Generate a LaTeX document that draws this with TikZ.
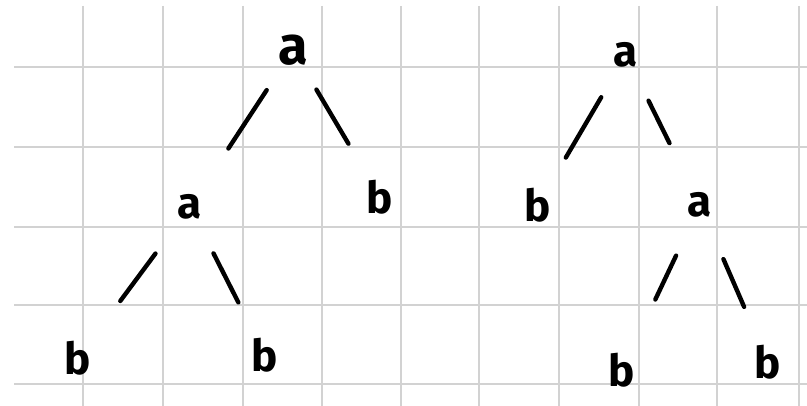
\documentclass[tikz,border=0pt]{standalone}
\usepackage{fontspec}
\setmainfont{Fira Sans}

\tikzset{
  gridline/.style={draw=gray!35, line width=1.5pt},
  letter/.style={inner sep=0pt, font=\fontsize{44}{44}\selectfont\bfseries},
  bigletter/.style={inner sep=0pt, font=\fontsize{54}{54}\selectfont\bfseries},
  branch/.style={line width=4.4pt, line cap=round}
}

\begin{document}
\begin{tikzpicture}[x=1pt, y=-1pt]
  \useasboundingbox[fill=white] (0,0) rectangle (807,406);

  % squared paper
  \foreach \yy in {67,147,227,305,384}
    \draw[gridline] (14,\yy) -- (807,\yy);
  \foreach \xx in {83,163,243,322,401,479,559,639,717,799}
    \draw[gridline] (\xx,6) -- (\xx,406);

  % left tree
  \node[bigletter] (ra) at (293,50) {a};
  \node[letter] (la) at (190,207) {a};
  \node[letter] (lb) at (380,197) {b};
  \node[letter] (lbl) at (78,358) {b};
  \node[letter] (lbr) at (265,355) {b};

  \draw[branch, shorten <=48pt, shorten >=70pt] (ra.center) -- (la.center);
  \draw[branch, shorten <=46pt, shorten >=62pt] (ra.center) -- (lb.center);
  \draw[branch, shorten <=58pt, shorten >=71pt] (la.center) -- (lbl.center);
  \draw[branch, shorten <=52pt, shorten >=59pt] (la.center) -- (lbr.center);

  % right tree
  \node[letter] (sa) at (626,55) {a};
  \node[letter] (sb) at (538,205) {b};
  \node[letter] (sc) at (700,205) {a};
  \node[letter] (sbl) at (622,370) {b};
  \node[letter] (sbr) at (768,362) {b};

  \draw[branch, shorten <=49pt, shorten >=55pt] (sa.center) -- (sb.center);
  \draw[branch, shorten <=51pt, shorten >=69pt] (sa.center) -- (sc.center);
  \draw[branch, shorten <=56pt, shorten >=78pt] (sc.center) -- (sbl.center);
  \draw[branch, shorten <=59pt, shorten >=60pt] (sc.center) -- (sbr.center);
\end{tikzpicture}
\end{document}
